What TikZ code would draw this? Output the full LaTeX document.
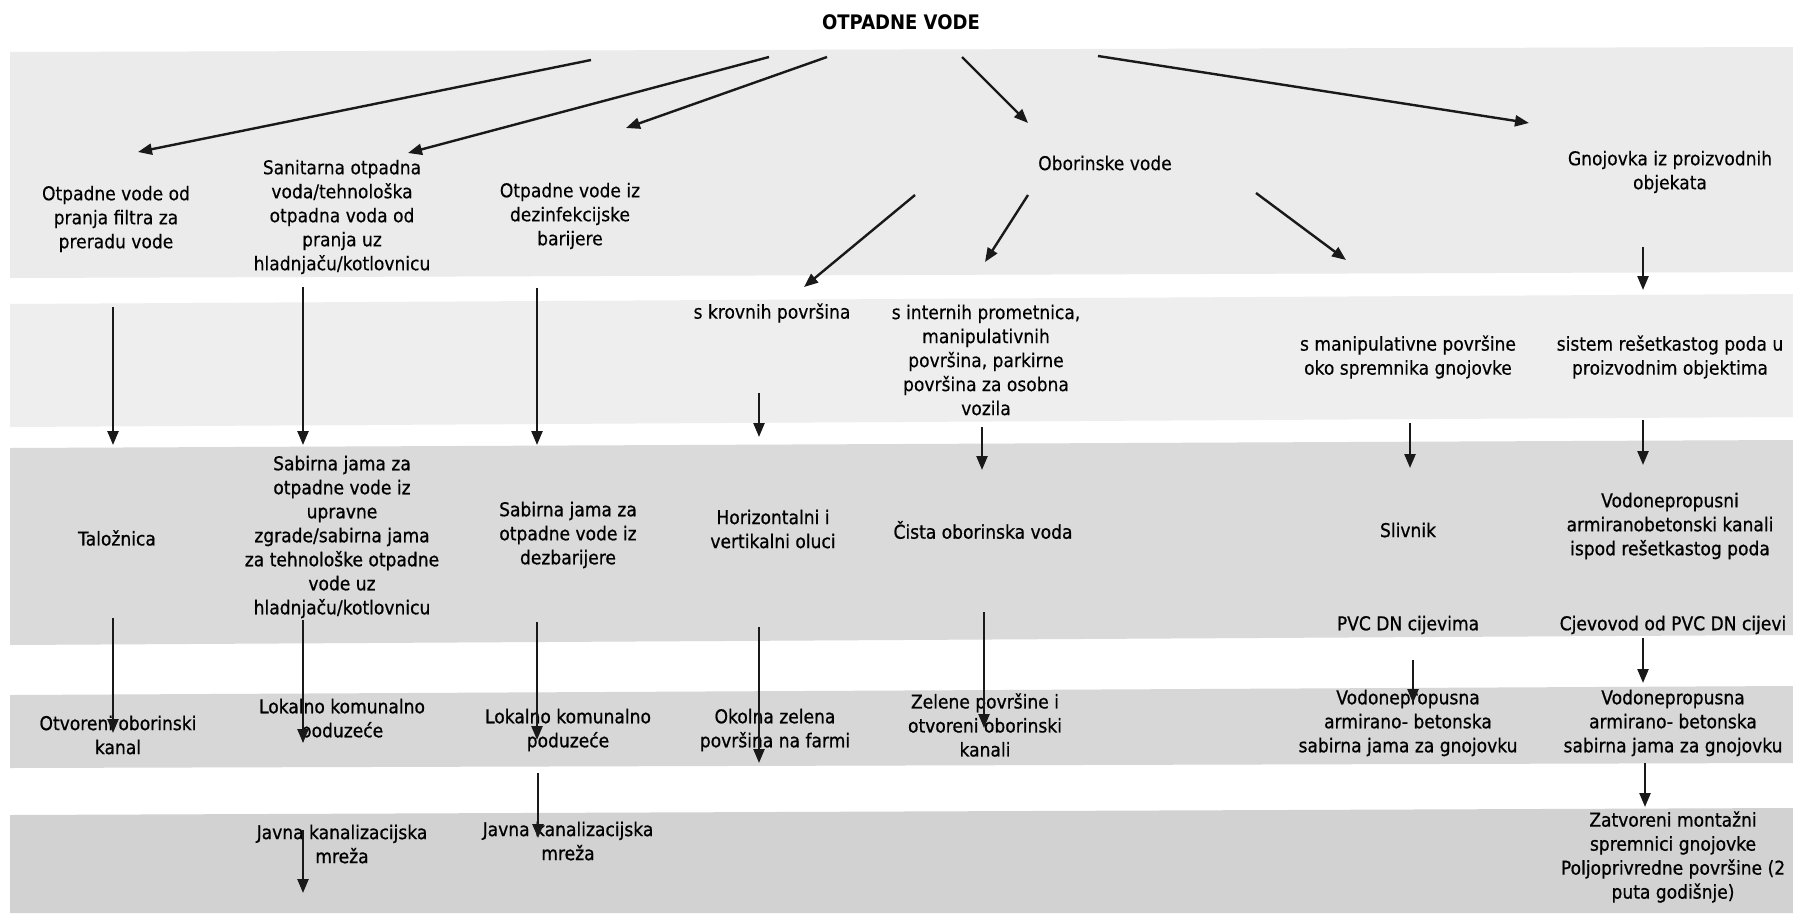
\documentclass[tikz,border=0pt]{standalone}
\usepackage{fontspec}
\setmainfont{DejaVu Sans}[FakeStretch=0.9]
\newfontfamily\upfont{DejaVu Sans}[FakeStretch=0.9,FakeBold=0.3]
\newfontfamily\lowfont{DejaVu Sans}[FakeStretch=0.9,FakeBold=0.8]
\usetikzlibrary{arrows.meta}
\definecolor{bandA}{HTML}{EBEBEB}
\definecolor{bandB}{HTML}{EEEEEE}
\definecolor{bandC}{HTML}{DADADA}
\definecolor{bandD}{HTML}{D7D7D7}
\definecolor{bandE}{HTML}{D2D2D2}
\tikzset{
  lbl/.style={align=center, inner sep=0pt, text=black, font=\upfont\fontsize{19}{24}\selectfont},
  lbll/.style={align=center, inner sep=0pt, text=black, font=\lowfont\fontsize{19}{24}\selectfont},
  ttl/.style={inner sep=0pt, font=\bfseries\fontsize{20}{22}\selectfont},
  arr/.style={line width=2.4pt, draw=black!90, -{Triangle[length=14pt,width=11pt]}},
}
\begin{document}
\begin{tikzpicture}[x=1pt,y=-1pt]
\useasboundingbox (0,0) rectangle (1793,913);
\fill[white] (0,0) rectangle (1793,913);
% bands
\fill[bandA] (10,52) -- (1793,47) -- (1793,272) -- (10,278) -- cycle;
\fill[bandB] (10,304) -- (1793,294) -- (1793,417) -- (10,427) -- cycle;
\fill[bandC] (10,448) -- (1793,440) -- (1793,635) -- (10,645) -- cycle;
\fill[bandD] (10,695) -- (1793,686) -- (1793,763) -- (10,768) -- cycle;
\fill[bandE] (10,815) -- (1793,808) -- (1793,913) -- (10,913) -- cycle;

% title
\node[ttl] (t) at (901,22) {OTPADNE VODE};

% row 1
\node[lbl] (a1) at (116,219) {Otpadne vode od\\pranja filtra za\\preradu vode};
\node[lbl] (a2) at (342,217) {Sanitarna otpadna\\voda/tehnološka\\otpadna voda od\\pranja uz\\hladnjaču/kotlovnicu};
\node[lbl] (a3) at (570,216) {Otpadne vode iz\\dezinfekcijske\\barijere};
\node[lbl] (a4) at (1105,163) {Oborinske vode};
\node[lbl] (a5) at (1670,172) {Gnojovka iz proizvodnih\\objekata};

% row 2
\node[lbl] (b1) at (772,313) {s krovnih površina};
\node[lbl] (b2) at (986,360) {s internih prometnica,\\manipulativnih\\površina, parkirne\\površina za osobna\\vozila};
\node[lbl] (b3) at (1408,357) {s manipulativne površine\\oko spremnika gnojovke};
\node[lbl] (b4) at (1670,357) {sistem rešetkastog poda u\\proizvodnim objektima};

% row 3
\node[lbll] (c1) at (117,538) {Taložnica};
\node[lbll] (c2) at (342,537) {Sabirna jama za\\otpadne vode iz\\upravne\\zgrade/sabirna jama\\za tehnološke otpadne\\vode uz\\hladnjaču/kotlovnicu};
\node[lbll] (c3) at (568,535) {Sabirna jama za\\otpadne vode iz\\dezbarijere};
\node[lbll] (c4) at (773,529) {Horizontalni i\\vertikalni oluci};
\node[lbll] (c5) at (983,530) {Čista oborinska voda};
\node[lbll] (c6) at (1408,530) {Slivnik};
\node[lbll] (c7) at (1670,526) {Vodonepropusni\\armiranobetonski kanali\\ispod rešetkastog poda};
\node[lbll] (c8) at (1408,625) {PVC DN cijevima};
\node[lbll] (c9) at (1673,625) {Cjevovod od PVC DN cijevi};

% row 4
\node[lbll] (d1) at (118,735) {Otvoreni oborinski\\kanal};
\node[lbll] (d2) at (342,720) {Lokalno komunalno\\poduzeće};
\node[lbll] (d3) at (568,730) {Lokalno komunalno\\poduzeće};
\node[lbll] (d4) at (775,730) {Okolna zelena\\površina na farmi};
\node[lbll] (d5) at (985,725) {Zelene površine i\\otvoreni oborinski\\kanali};
\node[lbll] (d6) at (1408,723) {Vodonepropusna\\armirano- betonska\\sabirna jama za gnojovku};
\node[lbll] (d7) at (1673,723) {Vodonepropusna\\armirano- betonska\\sabirna jama za gnojovku};

% row 5
\node[lbll] (e1) at (342,844) {Javna kanalizacijska\\mreža};
\node[lbll] (e2) at (568,841) {Javna kanalizacijska\\mreža};
\node[lbll] (e3) at (1673,857) {Zatvoreni montažni\\spremnici gnojovke\\Poljoprivredne površine (2\\puta godišnje)};

% arrow end points
\coordinate (ta1) at (591,60);   \coordinate (ea1) at (138,152);
\coordinate (ta2) at (769,57);   \coordinate (ea2) at (408,153);
\coordinate (ta3) at (827,57);   \coordinate (ea3) at (626,128);
\coordinate (ta4) at (962,57);   \coordinate (ea4) at (1028,123);
\coordinate (ta5) at (1098,56);  \coordinate (ea5) at (1529,123);
\coordinate (sb1) at (915,195);  \coordinate (eb1) at (804,287);
\coordinate (sb2) at (1028,195); \coordinate (eb2) at (985,262);
\coordinate (sb3) at (1256,193); \coordinate (eb3) at (1346,260);
\coordinate (sb4) at (1643,247); \coordinate (eb4) at (1643,290);
\coordinate (sc1) at (113,307);  \coordinate (ec1) at (113,445);
\coordinate (sc2) at (303,287);  \coordinate (ec2) at (303,445);
\coordinate (sc3) at (537,288);  \coordinate (ec3) at (537,445);
\coordinate (sc4) at (759,393);  \coordinate (ec4) at (759,437);
\coordinate (sc5) at (982,427);  \coordinate (ec5) at (982,470);
\coordinate (sc6) at (1410,423); \coordinate (ec6) at (1410,468);
\coordinate (sc7) at (1643,420); \coordinate (ec7) at (1643,465);
\coordinate (sd1) at (113,618);  \coordinate (ed1) at (113,733);
\coordinate (sd2) at (303,620);  \coordinate (ed2) at (303,743);
\coordinate (sd3) at (537,622);  \coordinate (ed3) at (537,740);
\coordinate (sd4) at (759,627);  \coordinate (ed4) at (759,763);
\coordinate (sd5) at (984,612);  \coordinate (ed5) at (984,728);
\coordinate (sd6) at (1413,660); \coordinate (ed6) at (1413,703);
\coordinate (sd7) at (1643,638); \coordinate (ed7) at (1643,683);
\coordinate (se2) at (538,773);  \coordinate (ee2) at (538,838);
\coordinate (se3) at (1645,763); \coordinate (ee3) at (1645,807);
\coordinate (se1) at (303,830);  \coordinate (ee1) at (303,893);

% arrows
\foreach \s/\e in {ta1/ea1,ta2/ea2,ta3/ea3,ta4/ea4,ta5/ea5,
                   sb1/eb1,sb2/eb2,sb3/eb3,sb4/eb4,
                   sc1/ec1,sc2/ec2,sc3/ec3,sc4/ec4,sc5/ec5,sc6/ec6,sc7/ec7,
                   sd1/ed1,sd2/ed2,sd3/ed3,sd4/ed4,sd5/ed5,sd6/ed6,sd7/ed7,
                   se1/ee1,se2/ee2,se3/ee3}
  \draw[arr] (\s) -- (\e);
\end{tikzpicture}
\end{document}
